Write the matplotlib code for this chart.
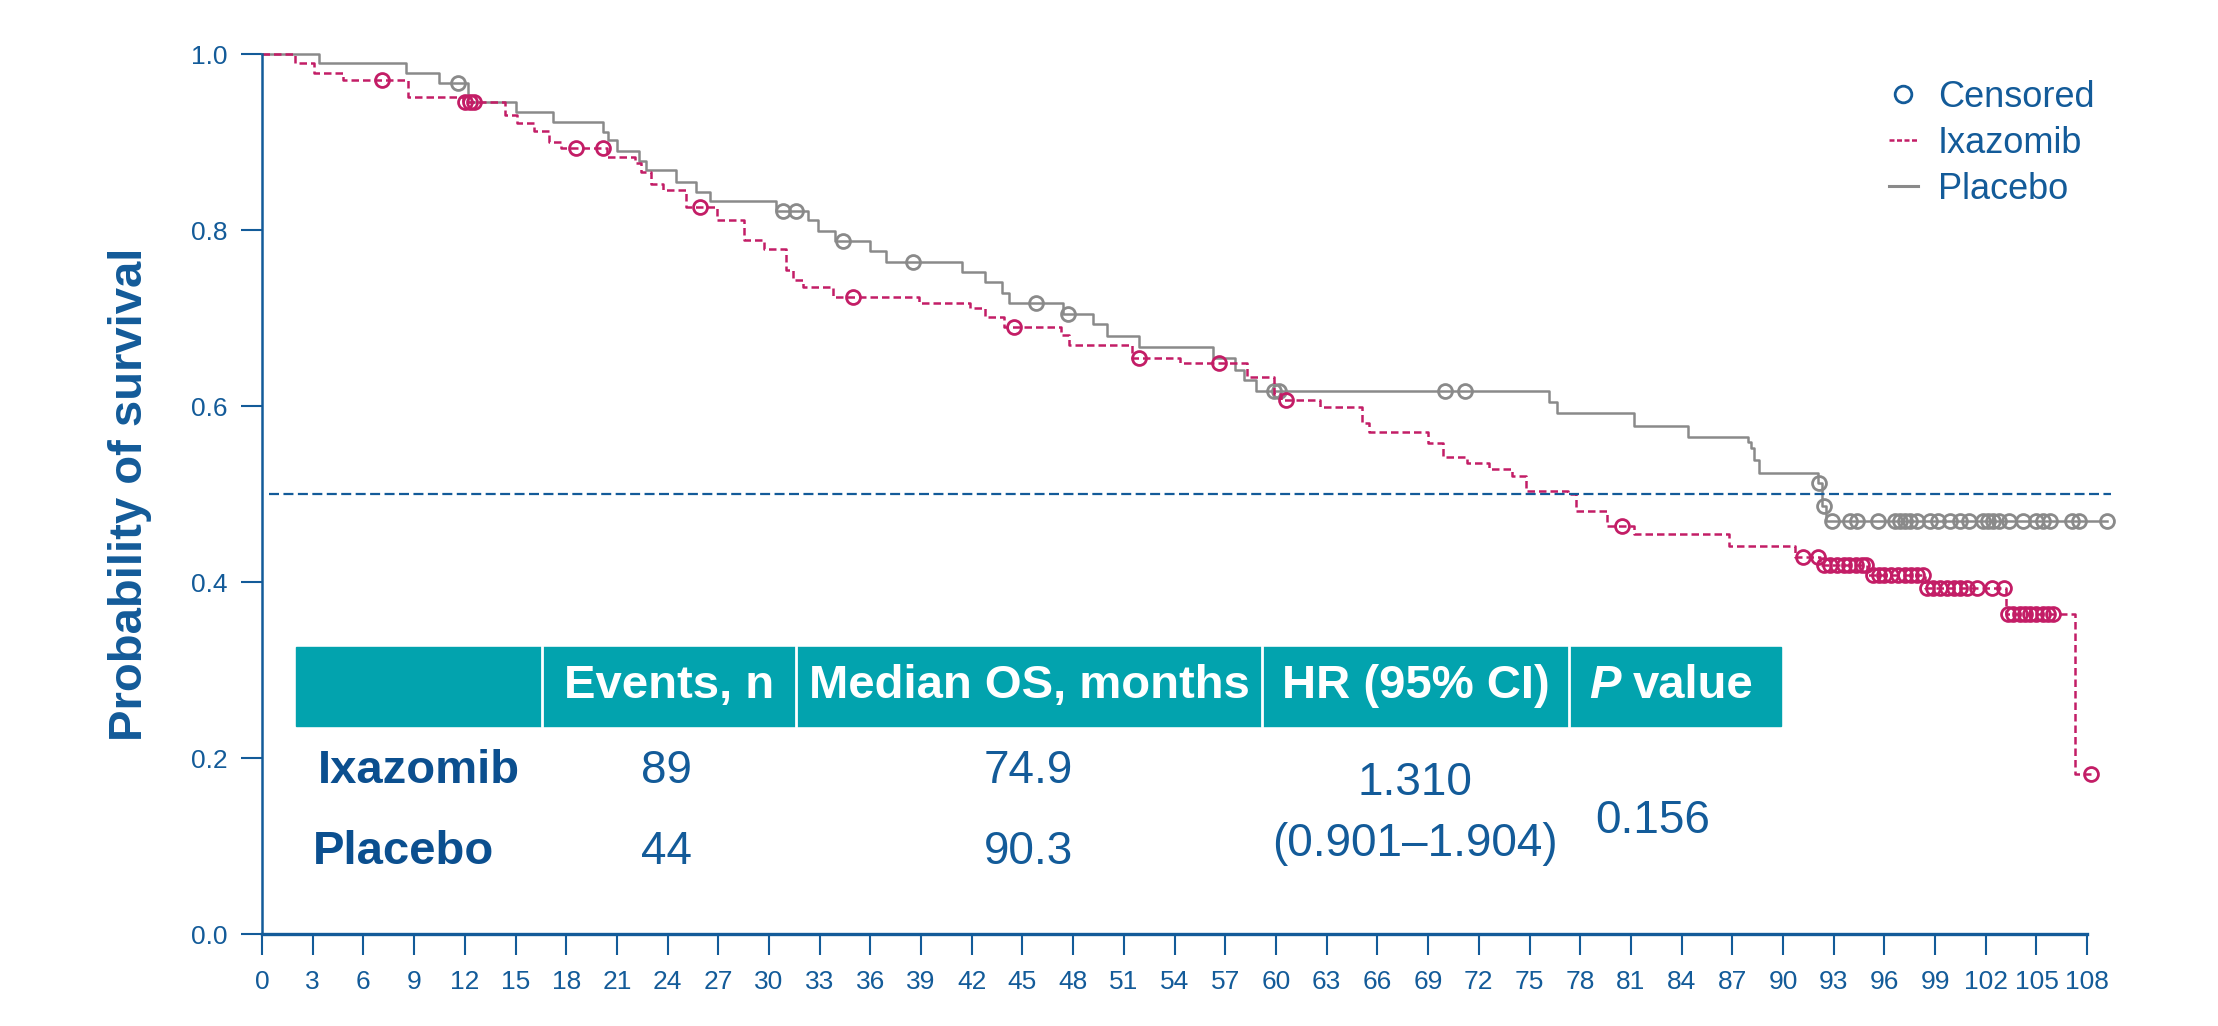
import numpy as np
import matplotlib.pyplot as plt
from matplotlib.lines import Line2D
from matplotlib.patches import Rectangle

plt.rcParams['font.family'] = ['Liberation Sans', 'DejaVu Sans']

# Kaplan-Meier steps (months, survival after the drop)
ixa_t = [0, 1.98, 3.05, 4.77, 8.66, 11.9, 14.4, 15.1, 16.1, 17.0, 17.7, 20.4, 22.1, 22.4,
         23.0, 23.7, 25.1, 26.9, 28.5, 29.7, 31.0, 31.4, 32.0, 33.8, 38.85, 41.9, 42.8,
         43.9, 47.3, 47.75, 51.5, 54.3, 58.3, 59.9, 60.3, 62.6, 65.1, 65.5, 69.0, 69.9,
         71.3, 72.6, 73.95, 74.8, 77.3, 77.75, 79.6, 81.2, 86.8, 90.7, 92.2, 95.0, 98.4,
         103.2, 107.3]
ixa_s = [1.0, 0.9894, 0.978, 0.9705, 0.9506, 0.9458, 0.9307, 0.922, 0.912, 0.900, 0.8928,
         0.8833, 0.8765, 0.866, 0.8523, 0.846, 0.826, 0.811, 0.789, 0.778, 0.7545, 0.743,
         0.7356, 0.724, 0.7167, 0.711, 0.7015, 0.690, 0.6807, 0.669, 0.655, 0.649, 0.6333,
         0.6135, 0.607, 0.5985, 0.581, 0.571, 0.5583, 0.5424, 0.5348, 0.528, 0.5208, 0.5038,
         0.4995, 0.481, 0.4636, 0.455, 0.441, 0.4285, 0.419, 0.408, 0.393, 0.3636, 0.182]
ixa_cens = [7.08, 12.0, 12.3, 12.55, 18.6, 20.2, 25.9, 34.95, 44.5, 51.9, 56.6, 60.6, 80.45,
            91.2, 92.1, 92.4, 92.8, 93.2, 93.6, 93.9, 94.3, 94.65, 94.9,
            95.35, 95.7, 96.0, 96.4, 96.8, 97.2, 97.6, 97.9, 98.3,
            98.5, 98.9, 99.3, 99.7, 100.1, 100.5, 100.9, 101.5, 102.35, 103.1,
            103.3, 103.6, 104.0, 104.3, 104.6, 105.0, 105.4, 105.7, 106.0, 108.2]

pla_t = [0, 3.4, 8.5, 10.5, 12.2, 15.05, 17.2, 20.2, 20.5, 21.0, 22.3, 22.7, 24.5, 25.7,
         26.5, 30.4, 32.3, 32.9, 33.9, 36.0, 36.9, 41.4, 42.8, 43.8, 44.2, 47.4, 49.2,
         50.0, 51.9, 56.3, 57.6, 58.1, 58.8, 76.15, 76.6, 81.2, 84.4, 87.95, 88.1, 88.3,
         88.6, 92.1, 92.3, 92.55]
pla_s = [1.0, 0.9894, 0.9788, 0.9674, 0.9458, 0.9344, 0.9224, 0.9117, 0.9023, 0.890,
         0.8787, 0.868, 0.855, 0.8435, 0.8333, 0.8212, 0.811, 0.799, 0.788, 0.776, 0.764,
         0.752, 0.7405, 0.728, 0.7167, 0.7045, 0.693, 0.6795, 0.667, 0.654, 0.641, 0.6295,
         0.6174, 0.605, 0.5924, 0.577, 0.565, 0.5595, 0.552, 0.5386, 0.524, 0.512, 0.486,
         0.469]
pla_cens = [11.6, 30.85, 31.6, 34.4, 38.5, 45.8, 47.7, 59.9, 60.2, 70.0, 71.2,
            92.15, 92.4, 92.9, 93.96, 94.4, 95.6, 96.6, 96.9, 97.2, 97.5, 97.9, 98.7,
            99.2, 99.9, 100.5, 101.0, 101.85, 102.15, 102.4, 102.8, 103.4, 104.2, 105.0,
            105.4, 105.8, 107.1, 107.5, 109.2]

x_ticks = list(range(0, 109, 3))
y_ticks = [0.0, 0.2, 0.4, 0.6, 0.8, 1.0]
median_level = 0.5

arms = ["Ixazomib", "Placebo"]
headers = ["Events, n", "Median OS, months", "HR (95% CI)"]
events = ["89", "44"]
median_os = ["74.9", "90.3"]
hr = "1.310"
hr_ci = "(0.901\u20131.904)"
p_value = "0.156"

BLUE = '#135b99'
DARK_BLUE = '#0b4f8f'
PINK = '#c31d66'
GRAY = '#8a8a8a'
TEAL = '#02a3ae'

W, H = 2218, 1026


def fx(x):
    return x / W


def fy(y):
    return 1 - y / H


def surv_at(t, s, times):
    idx = np.searchsorted(t, times, side='right') - 1
    return np.asarray(s)[idx]


fig = plt.figure(figsize=(W / 100, H / 100), dpi=100)
ax = fig.add_axes([262 / W, (H - 934) / H, 110 * 16.9 / W, 1.02 * 880 / H])

# curves
for t, s, cens, color, ls in [(pla_t, pla_s, pla_cens, GRAY, '-'),
                             (ixa_t, ixa_s, ixa_cens, PINK, (0, (3, 1.6)))]:
    end = max(cens)
    ax.step(list(t) + [end], list(s) + [s[-1]], where='post', color=color,
            lw=1.8, ls=ls, clip_on=False)
    ax.plot(cens, surv_at(t, s, cens), 'o', ms=10, mfc='none', mec=color, mew=2,
            clip_on=False)

ax.hlines(median_level, 0.4, 109.4, colors=BLUE, lw=1.6, linestyles=(0, (4.5, 2)))

ax.set_xlim(0, 110)
ax.set_ylim(0, 1.02)
ax.set_xticks(x_ticks)
ax.set_yticks(y_ticks)
ax.set_yticklabels([f"{v:.1f}" for v in y_ticks])
for side in ['top', 'right']:
    ax.spines[side].set_visible(False)
ax.spines['left'].set_bounds(0, 1.0)
ax.spines['bottom'].set_bounds(0, 108)
ax.spines['left'].set_color(BLUE)
ax.spines['bottom'].set_color(BLUE)
ax.spines['left'].set_linewidth(1.8)
ax.spines['bottom'].set_linewidth(2.4)
ax.tick_params(axis='both', colors=BLUE, labelsize=19, length=15, width=1.5)
ax.tick_params(axis='y', pad=10)
ax.tick_params(axis='x', pad=11)

fig.text(fx(130), fy(494), "Probability of survival", rotation=90, ha='center',
         va='center', fontsize=34, fontweight='bold', color=BLUE)

# legend
handles = [Line2D([], [], ls='none', marker='o', ms=12, mfc='none', mec=BLUE, mew=2),
           Line2D([], [], color=PINK, lw=1.8, ls=(0, (2, 1))),
           Line2D([], [], color=GRAY, lw=2.2)]
leg = ax.legend(handles, ["Censored", "Ixazomib", "Placebo"], loc='upper left',
                bbox_to_anchor=(fx(1889), fy(80)), bbox_transform=fig.transFigure,
                frameon=False, fontsize=26, handlelength=0.8, handletextpad=0.55,
                labelspacing=0.3, borderpad=0, borderaxespad=0, numpoints=1)
for txt in leg.get_texts():
    txt.set_color(BLUE)

# summary table
cols = [296, 542, 796, 1262, 1569, 1781]
band_top, band_bot = 647, 726
fig.patches.append(Rectangle((fx(cols[0]), fy(band_bot)), fx(cols[-1] - cols[0]),
                             (band_bot - band_top) / H, transform=fig.transFigure,
                             color=TEAL, zorder=5))
for c in cols[1:-1]:
    fig.add_artist(Line2D([fx(c), fx(c)], [fy(band_top), fy(band_bot)],
                          transform=fig.transFigure, color='white', lw=2, zorder=6))

head_y = 686
for i, label in enumerate(headers):
    fig.text(fx((cols[i + 1] + cols[i + 2]) / 2), fy(head_y), label, ha='center',
             va='center', fontsize=34, fontweight='bold', color='white', zorder=7)
fig.text(fx(1621), fy(head_y), "P", ha='right', va='center', fontsize=34,
         fontweight='bold', style='italic', color='white', zorder=7)
fig.text(fx(1633), fy(head_y), "value", ha='left', va='center', fontsize=34,
         fontweight='bold', color='white', zorder=7)

row_y = [771, 852]
label_x = [318, 313]
for i, arm in enumerate(arms):
    fig.text(fx(label_x[i]), fy(row_y[i]), arm, ha='left', va='center', fontsize=34,
             fontweight='bold', color=DARK_BLUE)
    fig.text(fx(666), fy(row_y[i]), events[i], ha='center', va='center', fontsize=33,
             color=BLUE)
    fig.text(fx(1028), fy(row_y[i]), median_os[i], ha='center', va='center',
             fontsize=33, color=BLUE)
fig.text(fx(1415), fy(783), hr, ha='center', va='center', fontsize=33, color=BLUE)
fig.text(fx(1415), fy(844), hr_ci, ha='center', va='center', fontsize=33, color=BLUE)
fig.text(fx(1653), fy(821), p_value, ha='center', va='center', fontsize=33, color=BLUE)

fig.savefig("out.png", dpi=100)
